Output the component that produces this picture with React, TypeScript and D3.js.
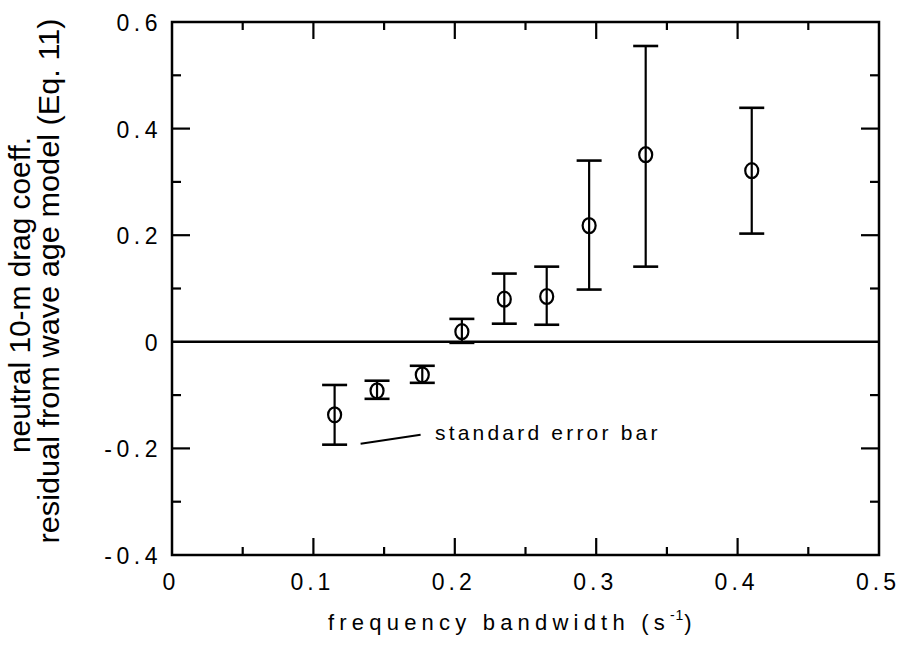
import React from "react";
import * as d3 from "d3";

const bandwidth = [0.115, 0.145, 0.177, 0.205, 0.235, 0.265, 0.295, 0.335, 0.41];
const residual = [-0.137, -0.092, -0.062, 0.019, 0.08, 0.085, 0.218, 0.351, 0.321];
const errLower = [-0.193, -0.107, -0.077, -0.002, 0.034, 0.032, 0.098, 0.141, 0.203];
const errUpper = [-0.081, -0.073, -0.045, 0.043, 0.128, 0.141, 0.34, 0.555, 0.439];

const xTickValues = [0, 0.1, 0.2, 0.3, 0.4, 0.5];
const xTickLabels = ["0", "0.1", "0.2", "0.3", "0.4", "0.5"];
const yTickValues = [-0.4, -0.2, 0, 0.2, 0.4, 0.6];
const yTickLabels = ["-0.4", "-0.2", "0", "0.2", "0.4", "0.6"];

const W = 899;
const H = 646;
const L = 172, R = 879, T = 22, B = 555;

export default function App() {
  const x = d3.scaleLinear().domain([0, 0.5]).range([L, R]);
  const y = d3.scaleLinear().domain([-0.4, 0.6]).range([B, T]);

  const xMinor = d3.range(0, 0.5001, 0.05).map((v) => +v.toFixed(3));
  const yMinor = d3.range(-0.4, 0.6001, 0.1).map((v) => +v.toFixed(3));
  const isMajorX = (v: number) => Math.abs(v * 10 - Math.round(v * 10)) < 1e-6;
  const isMajorY = (v: number) => Math.abs(v * 5 - Math.round(v * 5)) < 1e-6;

  const stroke = "#000";
  const tickFont = "'Liberation Sans', Arial, Helvetica, sans-serif";

  return (
    <svg
      width={W}
      height={H}
      style={{ position: "absolute", left: 0, top: 0, background: "#fff" }}
      fontFamily={tickFont}
    >
      <rect x={0} y={0} width={W} height={H} fill="#fff" />
      {/* frame */}
      <rect x={L} y={T} width={R - L} height={B - T} fill="none" stroke={stroke} strokeWidth={2.5} />
      {/* zero line */}
      <line x1={L} x2={R} y1={y(0)} y2={y(0)} stroke={stroke} strokeWidth={2.5} />

      {/* x ticks bottom & top */}
      {xMinor.filter((v) => v > 0 && v < 0.5).map((v, i) => {
        const len = isMajorX(v) ? 17 : 8;
        return (
          <g key={"xt" + i}>
            <line x1={x(v)} x2={x(v)} y1={B} y2={B - len} stroke={stroke} strokeWidth={2.2} />
            <line x1={x(v)} x2={x(v)} y1={T} y2={T + len} stroke={stroke} strokeWidth={2.2} />
          </g>
        );
      })}
      {/* y ticks left & right */}
      {yMinor.filter((v) => v > -0.4 && v < 0.6 && Math.abs(v) > 1e-6).map((v, i) => {
        const len = isMajorY(v) ? 18 : 9;
        return (
          <g key={"yt" + i}>
            <line x1={L} x2={L + len} y1={y(v)} y2={y(v)} stroke={stroke} strokeWidth={2.2} />
            <line x1={R} x2={R - len} y1={y(v)} y2={y(v)} stroke={stroke} strokeWidth={2.2} />
          </g>
        );
      })}

      {/* x tick labels */}
      {xTickValues.map((v, i) => (
        <text
          key={"xl" + i}
          x={x(v) - 1}
          y={590}
          textAnchor="middle"
          fontSize={23}
          letterSpacing={4}
          fill="#000"
        >
          {xTickLabels[i]}
        </text>
      ))}
      {/* y tick labels */}
      {yTickValues.map((v, i) => (
        <text
          key={"yl" + i}
          x={L - 10}
          y={y(v) + 9}
          textAnchor="end"
          fontSize={23}
          letterSpacing={4.5}
          fill="#000"
        >
          {yTickLabels[i]}
        </text>
      ))}

      {/* error bars and points */}
      {bandwidth.map((b, i) => {
        const cx = x(b);
        return (
          <g key={"p" + i} stroke={stroke} strokeWidth={2.2} fill="none">
            <line x1={cx} x2={cx} y1={y(errLower[i])} y2={y(errUpper[i])} />
            <line x1={cx - 12.5} x2={cx + 12.5} y1={y(errLower[i])} y2={y(errLower[i])} strokeWidth={2.6} />
            <line x1={cx - 12.5} x2={cx + 12.5} y1={y(errUpper[i])} y2={y(errUpper[i])} strokeWidth={2.6} />
            <ellipse cx={cx} cy={y(residual[i])} rx={6.5} ry={7.5} fill="#fff" strokeWidth={2.2} />
            <line x1={cx} x2={cx} y1={y(residual[i]) - 7.5} y2={y(residual[i]) + 7.5} />
          </g>
        );
      })}

      {/* annotation */}
      <line
        x1={x(bandwidth[0]) + 26}
        y1={y(errLower[0]) - 1}
        x2={x(bandwidth[0]) + 86}
        y2={y(errLower[0]) - 10}
        stroke={stroke}
        strokeWidth={2}
      />
      <text x={435} y={440} fontSize={21} letterSpacing={3.2} fill="#000">
        standard error bar
      </text>

      {/* x axis title */}
      <text x={328} y={630} fontSize={22} letterSpacing={5.2} fill="#000">
        frequency bandwidth (s
        <tspan fontSize={14} dy={-10} letterSpacing={1}>-1</tspan>
        <tspan dy={10}>)</tspan>
      </text>

      {/* y axis title */}
      <text
        transform={`translate(30, 295) rotate(-90)`}
        textAnchor="middle"
        fontSize={30}
        textLength={316}
        lengthAdjust="spacingAndGlyphs"
        fill="#000"
      >
        neutral 10-m drag coeff.
      </text>
      <text
        transform={`translate(59, 281) rotate(-90)`}
        textAnchor="middle"
        fontSize={30}
        textLength={525}
        lengthAdjust="spacingAndGlyphs"
        fill="#000"
      >
        residual from wave age model (Eq. 11)
      </text>
    </svg>
  );
}
